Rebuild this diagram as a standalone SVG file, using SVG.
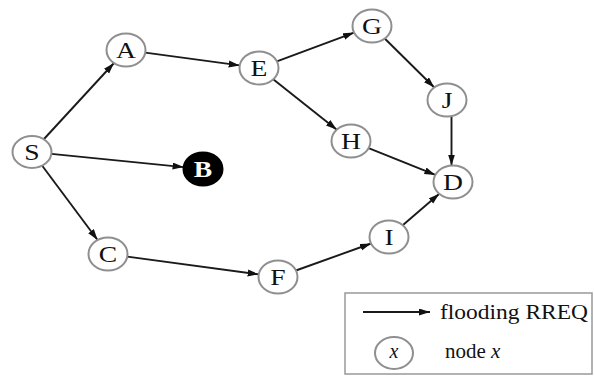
<svg xmlns="http://www.w3.org/2000/svg" width="594" height="376" viewBox="0 0 594 376">
<style>
.node ellipse{fill:#fff;stroke:#8f8f8f;stroke-width:2}
.node text{font-family:"Liberation Serif","Times New Roman",serif;font-size:24px;fill:#111;text-anchor:middle}
.edge{stroke:#1a1a1a;stroke-width:1.9;fill:none;marker-end:url(#ah)}
.leg{font-family:"Liberation Serif","Times New Roman",serif;fill:#111}
</style>
<defs>
<marker id="ah" markerUnits="userSpaceOnUse" markerWidth="12" markerHeight="8" refX="11" refY="3.5" orient="auto">
<path d="M0,0 L11,3.5 L0,7 z" fill="#111"/>
</marker>
</defs>
<rect width="594" height="376" fill="#fff"/>
<g id="connectors">
<line class="edge" x1="44" y1="139" x2="114" y2="63"/>
<line class="edge" x1="51.4" y1="153.9" x2="183.6" y2="167.1"/>
<line class="edge" x1="42.4" y1="166" x2="97.6" y2="240"/>
<line class="edge" x1="145.3" y1="52.6" x2="239.7" y2="65.4"/>
<line class="edge" x1="276.9" y1="61.4" x2="354.1" y2="32.6"/>
<line class="edge" x1="273.2" y1="79.3" x2="336.8" y2="129.7"/>
<line class="edge" x1="384.7" y1="38.5" x2="434.3" y2="87.5"/>
<line class="edge" x1="451.5" y1="116.5" x2="451.5" y2="165.5"/>
<line class="edge" x1="368.6" y1="148.1" x2="435.4" y2="174.9"/>
<line class="edge" x1="127.3" y1="256.6" x2="258.7" y2="274.4"/>
<line class="edge" x1="295.9" y1="270.5" x2="371.1" y2="243.5"/>
<line class="edge" x1="402.7" y1="225.2" x2="439.3" y2="193.8"/>
</g>
<g id="node-S" class="node"><ellipse cx="32" cy="152" rx="19.5" ry="16"/><text transform="translate(32,160) scale(1.15,1)">S</text></g>
<g id="node-A" class="node"><ellipse cx="126" cy="50" rx="19.5" ry="16.5"/><text transform="translate(126,58) scale(1.15,1)">A</text></g>
<g id="node-E" class="node"><ellipse cx="259" cy="68" rx="19.5" ry="16.5"/><text transform="translate(259,76) scale(1.15,1)">E</text></g>
<g id="node-G" class="node"><ellipse cx="372" cy="26" rx="19.5" ry="16.5"/><text transform="translate(372,34) scale(1.15,1)">G</text></g>
<g id="node-J" class="node"><ellipse cx="447" cy="100" rx="19.5" ry="16.5"/><text transform="translate(447,108) scale(1.15,1)">J</text></g>
<g id="node-H" class="node"><ellipse cx="351" cy="141" rx="19.5" ry="16.5"/><text transform="translate(351,149) scale(1.15,1)">H</text></g>
<g id="node-D" class="node"><ellipse cx="453" cy="182" rx="19.5" ry="16.5"/><text transform="translate(453,190) scale(1.15,1)">D</text></g>
<g id="node-B" class="node"><ellipse cx="203" cy="169" rx="19.5" ry="16.5" style="fill:#000;stroke:#000"/><text transform="translate(203,177) scale(1.15,1)" style="fill:#fff;font-weight:bold">B</text></g>
<g id="node-C" class="node"><ellipse cx="108" cy="254" rx="19.5" ry="16.5"/><text transform="translate(108,262) scale(1.15,1)">C</text></g>
<g id="node-F" class="node"><ellipse cx="278" cy="277" rx="19.5" ry="16.5"/><text transform="translate(278,285) scale(1.15,1)">F</text></g>
<g id="node-I" class="node"><ellipse cx="389" cy="237" rx="19.5" ry="16.5"/><text transform="translate(389,245) scale(1.15,1)">I</text></g>
<g id="legend">
<rect x="345" y="293" width="247" height="81" fill="none" stroke="#999" stroke-width="1.5"/>
<line class="edge" x1="363" y1="312" x2="430" y2="312"/>
<text class="leg" x="440" y="319" font-size="22" textLength="148" lengthAdjust="spacingAndGlyphs">flooding RREQ</text>
<g class="node"><ellipse cx="394" cy="353" rx="19" ry="16"/></g>
<text class="leg" x="394" y="358" font-size="20" font-style="italic" text-anchor="middle">x</text>
<text class="leg" x="445" y="358" font-size="21"><tspan>node </tspan><tspan font-style="italic">x</tspan></text>
</g>
</svg>
